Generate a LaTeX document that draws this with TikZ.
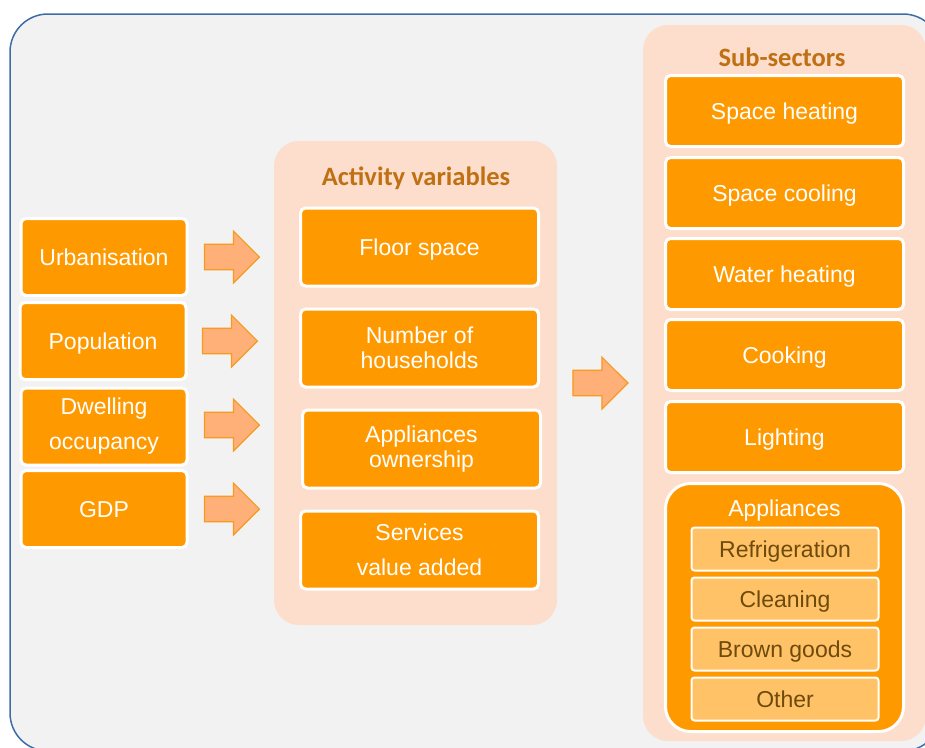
\documentclass[tikz,border=0pt]{standalone}
\usepackage{fontspec}
\setmainfont{Liberation Sans}
\newfontfamily\titlefont{Carlito}
\usetikzlibrary{shapes.arrows}
\definecolor{frameblue}{HTML}{3D6DA7}
\definecolor{framebg}{HTML}{F2F2F2}
\definecolor{peach}{HTML}{FDDDCB}
\definecolor{boxorange}{HTML}{FF9900}
\definecolor{lightorange}{HTML}{FFC266}
\definecolor{darkbrown}{HTML}{6E4A0C}
\definecolor{titlebrown}{HTML}{BF7013}
\definecolor{arrowfill}{HTML}{FFAF78}
\definecolor{arrowline}{HTML}{F79A1E}
\begin{document}
\begin{tikzpicture}[x=1pt,y=-1pt,
  box/.style={draw=white, line width=3pt, fill=boxorange, rounded corners=5pt,
    text=white, font=\fontsize{23}{25}\selectfont, align=center, inner sep=0pt},
  oneline/.style={text depth=0pt},
  leftbox/.style={box, minimum width=166pt, minimum height=77pt},
  actbox/.style={box, minimum width=238pt, minimum height=78pt},
  subbox/.style={box, oneline, minimum width=238pt, minimum height=71pt},
  appbox/.style={draw=white, line width=2pt, fill=lightorange, rounded corners=3pt,
    text=darkbrown, font=\fontsize{23}{25}\selectfont, inner sep=0pt, oneline,
    minimum width=187pt, minimum height=43pt},
  panel/.style={fill=peach, rounded corners=25pt},
  paneltitle/.style={text=titlebrown, font=\titlefont\bfseries\fontsize{26.5}{28}\selectfont, inner sep=0pt},
  bigarrow/.style={single arrow, draw=arrowline, fill=arrowfill, line width=1.2pt,
    minimum height=55pt, minimum width=52pt, single arrow head extend=13pt,
    inner sep=12pt, shape border rotate=0}
]
\useasboundingbox (0,0) rectangle (925,747);
\clip (0,0) rectangle (925,747);
% frame
\draw[frameblue, line width=1.5pt, fill=framebg, rounded corners=38pt] (10,14) rectangle (941,751);
% panels
\fill[panel] (274,141) rectangle (557,625);
\fill[panel] (643,25) rectangle (926,741);
\node[paneltitle] (acttitle) at (416,178) {Activity variables};
\node[paneltitle] (subtitle) at (782,57) {Sub-sectors};
% left boxes
\node[leftbox, oneline] (urb) at (104,257) {Urbanisation};
\node[leftbox, oneline] (pop) at (103,341) {Population};
\node[leftbox] (dwell) at (104,426.5) {Dwelling\\[10pt]occupancy};
\node[leftbox, oneline] (gdp) at (104,509) {GDP};
% arrows
\node[bigarrow] (a1) at (225.5,257) {};
\node[bigarrow] (a2) at (223.5,341) {};
\node[bigarrow] (a3) at (225.5,425) {};
\node[bigarrow] (a4) at (225.5,509) {};
\node[bigarrow] (a5) at (594,383) {};
% activity boxes
\node[actbox, oneline] (floor) at (419.5,247) {Floor space};
\node[actbox] (hh) at (419.5,348) {Number of\\households};
\node[actbox] (own) at (421.5,449) {Appliances\\ownership};
\node[actbox] (serv) at (419.5,550) {Services\\[10pt]value added};
% sub-sector boxes
\node[subbox] (heat) at (784.5,111) {Space heating};
\node[subbox] (cool) at (784.5,193) {Space cooling};
\node[subbox] (water) at (784.5,274) {Water heating};
\node[subbox] (cook) at (784.5,355) {Cooking};
\node[subbox] (light) at (784.5,437) {Lighting};
% appliances group
\node[box, rounded corners=25pt, minimum width=238pt, minimum height=248pt] (app) at (784.5,607.5) {};
\node[text=white, font=\fontsize{23}{25}\selectfont, inner sep=0pt, oneline] (applabel) at (784.5,508) {Appliances};
\node[appbox] (fridge) at (785,549) {Refrigeration};
\node[appbox] (clean) at (785,599) {Cleaning};
\node[appbox] (brown) at (785,649) {Brown goods};
\node[appbox] (other) at (785,699) {Other};
\end{tikzpicture}
\end{document}
